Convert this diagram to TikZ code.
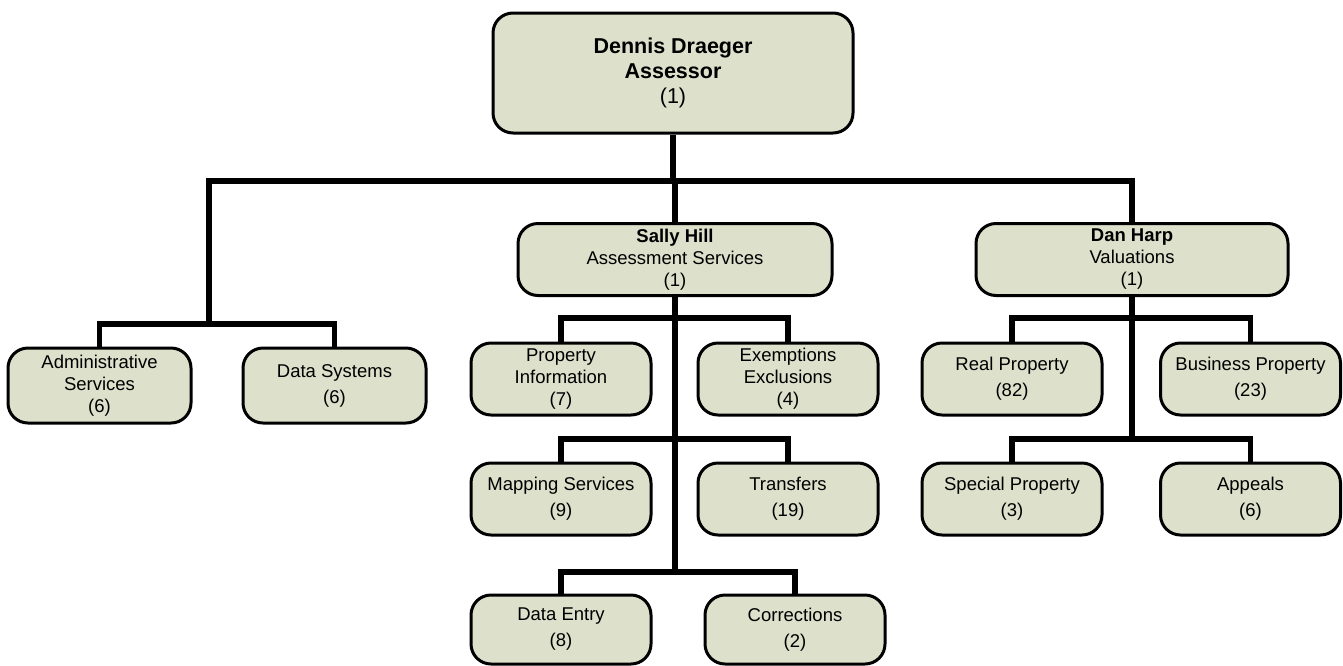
\documentclass[tikz,border=0pt]{standalone}
\usepackage{fontspec}
\setmainfont{Liberation Sans}
\definecolor{boxfill}{RGB}{221,224,203}

\begin{document}
\begin{tikzpicture}
      [x=1pt,y=-1pt,
        unit/.style={draw,line width=3pt,rounded corners=20pt,fill=boxfill,
          align=center,inner sep=0pt,minimum width=180pt,minimum height=72pt,
          font=\fontsize{18.5}{22}\selectfont},
        twoline/.style={font=\fontsize{18.5}{26}\selectfont},
        link/.style={line width=5.5pt}]
  \useasboundingbox (0,0) rectangle (1343,665);
  \node[unit,minimum width=360pt,minimum height=120pt,font=\fontsize{21.5}{25}\selectfont]
      (root) at (673,73) {\textbf{Dennis Draeger}\\\textbf{Assessor}\\(1)};
  \node[unit,minimum width=314pt] (sally) at (675,259.5)
      {\textbf{Sally Hill}\\Assessment Services\\(1)};
  \node[unit,minimum width=312pt] (dan) at (1132,259.5)
      {\textbf{Dan Harp}\\Valuations\\(1)};
  \node[unit,minimum width=183pt,minimum height=75pt] (admin) at (99.5,385.5)
      {Administrative\\Services\\(6)};
  \node[unit,twoline,minimum width=183pt,minimum height=75pt] (datasys) at (334.5,385.5)
      {Data Systems\\(6)};
  \node[unit] (propinfo) at (561,379) {Property\\Information\\(7)};
  \node[unit] (exempt) at (788,379) {Exemptions\\Exclusions\\(4)};
  \node[unit,twoline] (mapping) at (561,499) {Mapping Services\\(9)};
  \node[unit,twoline] (transfers) at (788,499) {Transfers\\(19)};
  \node[unit,twoline,minimum height=69pt] (dataentry) at (561,629.5) {Data Entry\\(8)};
  \node[unit,twoline,minimum height=69pt] (corrections) at (795,629.5) {Corrections\\(2)};
  \node[unit,twoline] (realprop) at (1012,379) {Real Property\\(82)};
  \node[unit,twoline] (busprop) at (1250.5,379) {Business Property\\(23)};
  \node[unit,twoline] (special) at (1012,499) {Special Property\\(3)};
  \node[unit,twoline] (appeals) at (1250.5,499) {Appeals\\(6)};

  \coordinate (bus) at (209,181);
  \coordinate (lefthub) at (209,324);
  \coordinate (sa1) at (675,318);
  \coordinate (sa2) at (675,439);
  \coordinate (sa3) at (675,572);
  \coordinate (da1) at (1132,318);
  \coordinate (da2) at (1132,439);

  \draw[link] (root.south) -- (root.south |- bus);
  \draw[link] (lefthub) -- (bus) -| (dan.north);
  \draw[link] (sally.north) -- (sally.north |- bus);
  \draw[link] (admin.north) |- (lefthub) -| (datasys.north);
  \draw[link] (sally.south) -- (sa3);
  \draw[link] (propinfo.north) |- (sa1) -| (exempt.north);
  \draw[link] (mapping.north) |- (sa2) -| (transfers.north);
  \draw[link] (dataentry.north) |- (sa3) -| (corrections.north);
  \draw[link] (dan.south) -- (da2);
  \draw[link] (realprop.north) |- (da1) -| (busprop.north);
  \draw[link] (special.north) |- (da2) -| (appeals.north);
\end{tikzpicture}
\end{document}
